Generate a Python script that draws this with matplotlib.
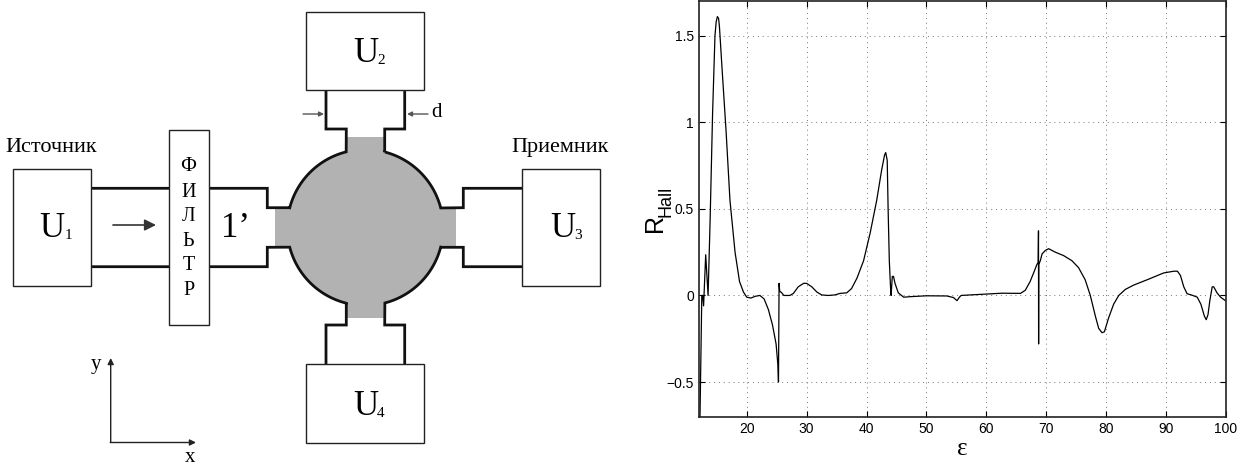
import numpy as np
import matplotlib
matplotlib.use('Agg')
import matplotlib.pyplot as plt
from matplotlib.patches import Rectangle, Circle

plt.rcParams['font.family'] = ['Liberation Sans', 'DejaVu Sans']

# кривая R_Hall(eps), значения
eps = [12.15, 12.2, 12.5, 12.65, 12.8, 13.15, 13.55, 13.9, 14.3, 14.7, 14.9, 15.1, 15.3, 15.45, 15.9, 16.55, 17.2,
       18.05, 18.8, 19.45, 20, 20.7, 21.4, 22.2, 22.9, 23.6, 24.3, 24.9, 25.2, 25.3, 25.4, 25.5,
       25.85, 26.2, 27.2, 27.8, 28.6, 29.5, 30, 30.85, 31.7, 32.5, 33.6, 34.7, 35.6, 36.7, 37.5,
       38.4, 39.5, 40.6, 41.7, 42.5, 43, 43.2, 43.45, 43.6, 43.8, 44, 44.1, 44.3, 44.5, 44.75,
       45.3, 46.2, 47.3, 50, 53.4, 54.5, 55.1, 55.55, 55.8, 57.3, 60, 62.6, 65.7, 66.5, 67.3,
       68, 68.45, 68.65, 68.7, 68.72, 68.75, 69, 69.3, 69.85, 70.4, 71.5, 72.9, 74.3, 75.4, 76.5,
       77.35, 78.2, 78.75, 79.3, 79.7, 80.4, 81.25, 82.1, 83.2, 84.6, 86.8, 89.6, 91.3, 91.9, 92.4,
       92.95, 93.5, 94.3, 95.2, 95.8, 96.4, 96.7, 97, 97.3, 97.7, 97.95, 98.5, 99.1, 99.9]
r_hall = [-0.7, -0.7, 0, 0, -0.06, 0.235, 0, 0.45, 1.05, 1.5, 1.58, 1.61, 1.6, 1.55, 1.3, 0.95, 0.55,
          0.25, 0.08, 0.02, -0.01, -0.015, -0.005, 0, -0.02, -0.08, -0.17, -0.28, -0.4, -0.5, 0.07, 0.025,
          0.015, 0, 0, 0.012, 0.05, 0.07, 0.07, 0.05, 0.02, 0.003, 0, 0.003, 0.012, 0.015, 0.04,
          0.1, 0.2, 0.36, 0.55, 0.72, 0.81, 0.825, 0.78, 0.5, 0.2, 0.05, 0, 0.11, 0.11, 0.07,
          0.015, -0.01, -0.007, -0.002, -0.003, -0.012, -0.03, -0.008, 0, 0.003, 0.008, 0.013, 0.012, 0.03, 0.08,
          0.14, 0.18, 0.19, 0.373, -0.28, 0.18, 0.2, 0.24, 0.26, 0.27, 0.25, 0.23, 0.2, 0.16, 0.09,
          0, -0.12, -0.19, -0.215, -0.21, -0.13, -0.05, 0, 0.035, 0.06, 0.09, 0.13, 0.14, 0.14, 0.115,
          0.05, 0.01, 0.002, -0.01, -0.05, -0.12, -0.14, -0.11, -0.03, 0.05, 0.05, 0.015, -0.01, -0.03]
x_ticks = [20, 30, 40, 50, 60, 70, 80, 90, 100]
y_ticks = [-0.5, 0, 0.5, 1, 1.5]
y_tick_labels = ['\u22120.5', '0', '0.5', '1', '1.5']

# схема, координаты в пикселях картинки
cx, cy, rad = 365.2, 227.5, 78
boxes = [(12.7, 168.7, 78.6, 117.3), (306.3, 12, 117.7, 78.3),
         (522, 168.7, 78.3, 117.3), (306.3, 364.3, 117.7, 78.7)]
filter_box = (169.3, 129.7, 39.4, 195.3)
gray_rects = [(274.7, 207.7, 181.3, 39.6), (346.3, 137, 38.4, 181)]
filter_letters = ['Ф', 'И', 'Л', 'Ь', 'Т', 'Р']
filter_y = [164, 190, 214, 239, 263, 288]


def arc(p0, p1):
    # дуга окружности контакта между двумя точками
    a0 = np.arctan2(p0[1] - cy, p0[0] - cx)
    a1 = np.arctan2(p1[1] - cy, p1[0] - cx)
    if abs(a1 - a0) > np.pi:
        a1 += 2 * np.pi if a1 < a0 else -2 * np.pi
    t = np.linspace(a0, a1, 40)
    return list(zip(cx + rad * np.cos(t), cy + rad * np.sin(t)))


wires = [
    [(91, 188.3), (267.3, 188.3), (267.3, 207.7), (289.3, 207.7)] + arc((289.3, 207.7), (346.3, 152.3))
    + [(346.3, 129), (326, 129), (326, 90.3)],
    [(404.7, 90.3), (404.7, 129), (384.7, 129), (384.7, 152.3)] + arc((384.7, 152.3), (441.7, 207.7))
    + [(463.3, 207.7), (463.3, 188.3), (522, 188.3)],
    [(522, 266.7), (463.3, 266.7), (463.3, 247.3), (441.7, 247.3)] + arc((441.7, 247.3), (384.7, 302.3))
    + [(384.7, 325), (404.7, 325), (404.7, 364.3)],
    [(326, 364.3), (326, 325), (346.3, 325), (346.3, 302.3)] + arc((346.3, 302.3), (289.3, 247.3))
    + [(267.3, 247.3), (267.3, 266.7), (91, 266.7)],
]

fig = plt.figure(figsize=(12.41, 4.67), dpi=100)

sch = fig.add_axes([0, 0, 1, 1])
sch.set_xlim(0, 1241)
sch.set_ylim(467, 0)
sch.axis('off')

sch.add_patch(Circle((cx, cy), rad, fc='#b2b2b2', ec='none', zorder=1))
for r in gray_rects:
    sch.add_patch(Rectangle(r[:2], r[2], r[3], fc='#b2b2b2', ec='none', zorder=1))
for w in wires:
    sch.plot([p[0] for p in w], [p[1] for p in w], color='#111111', lw=2.0,
             solid_joinstyle='miter', zorder=2)
for b in boxes + [filter_box]:
    sch.add_patch(Rectangle(b[:2], b[2], b[3], fc='white', ec='#222222', lw=1.0, zorder=3))


def label(x, y, s, size):
    sch.text(x, y, s, fontsize=size, family=['Liberation Serif', 'DejaVu Serif'],
             ha='left', va='baseline', color='black', zorder=4)


label(5, 152, 'Источник', 16)
label(511, 152, 'Приемник', 16)
label(39.5, 237, 'U', 25)
label(65, 239, '1', 11)
label(353.5, 62, 'U', 25)
label(377, 64, '2', 11)
label(550, 237, 'U', 25)
label(574, 239, '3', 11)
label(353.5, 415, 'U', 25)
label(377, 417, '4', 11)
label(221, 237, '1’', 25)
label(431, 117, 'd', 15)
label(91, 369, 'y', 15)
label(185, 462, 'x', 15)
for s, y in zip(filter_letters, filter_y):
    sch.text(188.5, y + 7, s, fontsize=14.5, family=['Liberation Serif', 'DejaVu Serif'],
             ha='center', va='baseline', zorder=4)

# стрелки на схеме
def arrow(p0, p1, color='#333333', lw=1.0, scale=10):
    sch.annotate('', xy=p1, xytext=p0, zorder=4,
                 arrowprops=dict(arrowstyle='-|>', color=color, lw=lw, mutation_scale=scale,
                                 shrinkA=0, shrinkB=0))


arrow((113, 225), (156, 225), lw=1.2, scale=17)
arrow((303, 114), (324, 114), color='#555555', scale=7)
arrow((428, 114), (407, 114), color='#555555', scale=7)
arrow((110.7, 442.5), (110.7, 358), color='#222222', scale=9)
arrow((110.2, 442.5), (196, 442.5), color='#222222', scale=9)

# график
ax = fig.add_axes([698.8 / 1241, 1 - 416.7 / 467, (1226 - 698.8) / 1241, (416.7 - 1) / 467])
ax.plot(eps, r_hall, color='black', lw=0.9)
ax.set_xlim(12, 100)
ax.set_ylim(-0.7, 1.7)
ax.set_xticks(x_ticks)
ax.set_yticks(y_ticks)
ax.set_yticklabels(y_tick_labels)
ax.grid(True, linestyle=(0, (1, 4)), color='#777777', lw=0.7)
ax.tick_params(direction='in', top=True, right=True, length=4, width=0.8, labelsize=10, pad=3.5)
for s in ax.spines.values():
    s.set_linewidth(1.2)
    s.set_color('#222222')

sch.text(655, 232, 'R', fontsize=18, rotation=90, ha='center', va='bottom')
sch.text(666, 217, 'Hall', fontsize=13, rotation=90, ha='center', va='bottom')
sch.text(962, 455, 'ε', fontsize=18, family=['Liberation Serif', 'DejaVu Serif'], ha='center', va='baseline')

fig.savefig('out.png', dpi=100)
